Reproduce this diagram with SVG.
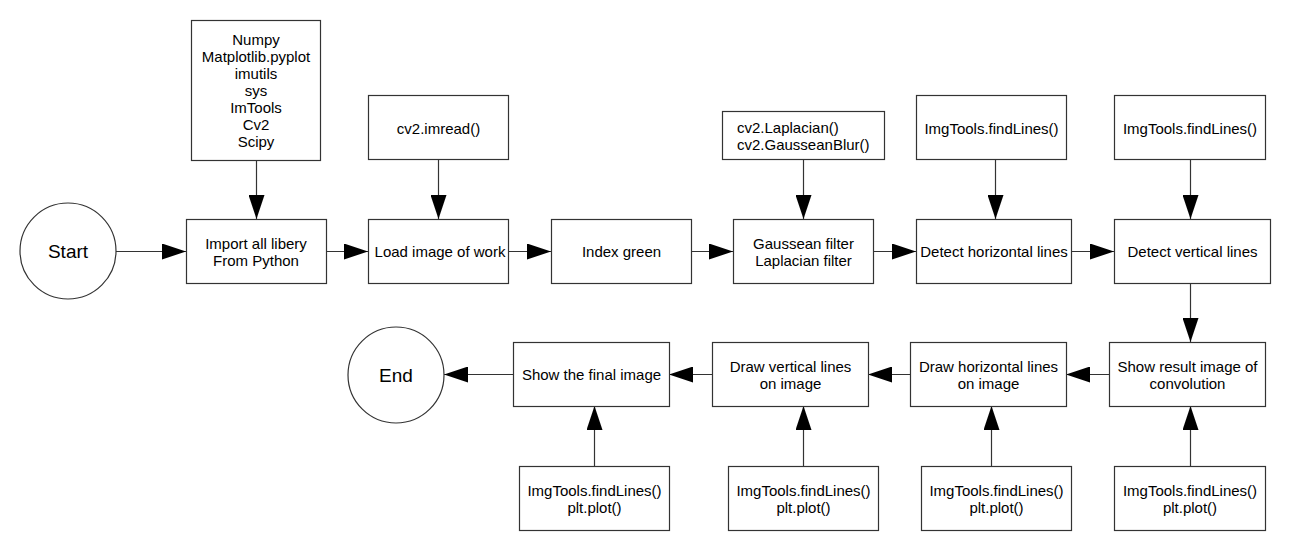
<svg xmlns="http://www.w3.org/2000/svg" width="1290" height="550" viewBox="0 0 1290 550">
<defs>
<marker id="arr" markerUnits="userSpaceOnUse" markerWidth="24" markerHeight="16" refX="24" refY="8" orient="auto">
<path d="M0,0 L24,8 L0,16 z" fill="#000"/>
</marker>
<style>
rect, circle { fill: #fff; stroke: #333; stroke-width: 1.2; }
.c line { stroke: #333; stroke-width: 1.2; marker-end: url(#arr); }
text { font-family: "Liberation Sans", Arial, sans-serif; font-size: 15px; fill: #000; text-anchor: middle; }
.big { font-size: 19px; }
.l { text-anchor: start; }
</style>
</defs>
<rect x="0" y="0" width="1290" height="550" style="fill:#fff;stroke:none"/>
<g class="c" id="connectors">
<line x1="116" y1="251.5" x2="186" y2="251.5"/>
<line x1="326" y1="251.5" x2="368" y2="251.5"/>
<line x1="508" y1="251.5" x2="551" y2="251.5"/>
<line x1="691" y1="251.5" x2="733" y2="251.5"/>
<line x1="873" y1="251.5" x2="916" y2="251.5"/>
<line x1="1071" y1="251.5" x2="1114" y2="251.5"/>
<line x1="256.5" y1="160" x2="256.5" y2="219"/>
<line x1="438.5" y1="159" x2="438.5" y2="219"/>
<line x1="803.5" y1="159" x2="803.5" y2="219"/>
<line x1="995.5" y1="159" x2="995.5" y2="219"/>
<line x1="1190.5" y1="159" x2="1190.5" y2="219"/>
<line x1="1190.5" y1="283" x2="1190.5" y2="342"/>
<line x1="1109" y1="374.5" x2="1066" y2="374.5"/>
<line x1="910" y1="374.5" x2="868" y2="374.5"/>
<line x1="712" y1="374.5" x2="669" y2="374.5"/>
<line x1="513" y1="374.5" x2="444" y2="374.5"/>
<line x1="594.5" y1="466" x2="594.5" y2="406"/>
<line x1="803.5" y1="466" x2="803.5" y2="406"/>
<line x1="991.5" y1="466" x2="991.5" y2="406"/>
<line x1="1190.5" y1="466" x2="1190.5" y2="406"/>
</g>
<g id="start"><circle cx="68" cy="251" r="48"/><text class="big" x="68" y="258">Start</text></g>
<g id="libs"><rect x="191.5" y="20.5" width="129" height="140"/>
<text x="256" y="44.5">Numpy</text><text x="256" y="61.5">Matplotlib.pyplot</text><text x="256" y="78.5">imutils</text><text x="256" y="95.5">sys</text><text x="256" y="112.5">ImTools</text><text x="256" y="129.5">Cv2</text><text x="256" y="146.5">Scipy</text></g>
<g id="import"><rect x="186.5" y="219.5" width="140" height="64"/><text x="256" y="248.5">Import all libery</text><text x="256" y="265.5">From Python</text></g>
<g id="imread"><rect x="368.5" y="95.5" width="140" height="64"/><text x="438.5" y="133.5">cv2.imread()</text></g>
<g id="load"><rect x="368.5" y="219.5" width="140" height="64"/><text x="440" y="256.5">Load image of work</text></g>
<g id="index"><rect x="551.5" y="219.5" width="140" height="64"/><text x="621.5" y="256.5">Index green</text></g>
<g id="lapfn"><rect x="722.5" y="111.5" width="162" height="48"/><text class="l" x="737" y="133">cv2.Laplacian()</text><text class="l" x="737" y="149.5">cv2.GausseanBlur()</text></g>
<g id="gauss"><rect x="733.5" y="219.5" width="140" height="64"/><text x="803.5" y="248.5">Gaussean filter</text><text x="803.5" y="265.5">Laplacian filter</text></g>
<g id="find1"><rect x="916.5" y="95.5" width="150" height="64"/><text x="991.5" y="133.5">ImgTools.findLines()</text></g>
<g id="deth"><rect x="916.5" y="219.5" width="155" height="64"/><text x="994" y="256.5">Detect horizontal lines</text></g>
<g id="find2"><rect x="1114.5" y="95.5" width="151" height="64"/><text x="1190" y="133.5">ImgTools.findLines()</text></g>
<g id="detv"><rect x="1114.5" y="219.5" width="156" height="64"/><text x="1192.5" y="256.5">Detect vertical lines</text></g>
<g id="showres"><rect x="1109.5" y="342.5" width="156" height="64"/><text x="1187.5" y="371.5">Show result image of</text><text x="1187.5" y="388.5">convolution</text></g>
<g id="drawh"><rect x="910.5" y="342.5" width="156" height="64"/><text x="988.5" y="371.5">Draw horizontal lines</text><text x="988.5" y="388.5">on image</text></g>
<g id="drawv"><rect x="712.5" y="342.5" width="156" height="64"/><text x="790.5" y="371.5">Draw vertical lines</text><text x="790.5" y="388.5">on image</text></g>
<g id="final"><rect x="513.5" y="342.5" width="156" height="64"/><text x="591.5" y="380">Show the final image</text></g>
<g id="end"><circle cx="396" cy="375" r="48"/><text class="big" x="396" y="382">End</text></g>
<g id="plot1"><rect x="519.5" y="466.5" width="150" height="64"/><text x="594.5" y="495.5">ImgTools.findLines()</text><text x="594.5" y="512.5">plt.plot()</text></g>
<g id="plot2"><rect x="728.5" y="466.5" width="150" height="64"/><text x="803.5" y="495.5">ImgTools.findLines()</text><text x="803.5" y="512.5">plt.plot()</text></g>
<g id="plot3"><rect x="921.5" y="466.5" width="150" height="64"/><text x="996.5" y="495.5">ImgTools.findLines()</text><text x="996.5" y="512.5">plt.plot()</text></g>
<g id="plot4"><rect x="1114.5" y="466.5" width="151" height="64"/><text x="1190" y="495.5">ImgTools.findLines()</text><text x="1190" y="512.5">plt.plot()</text></g>
</svg>
